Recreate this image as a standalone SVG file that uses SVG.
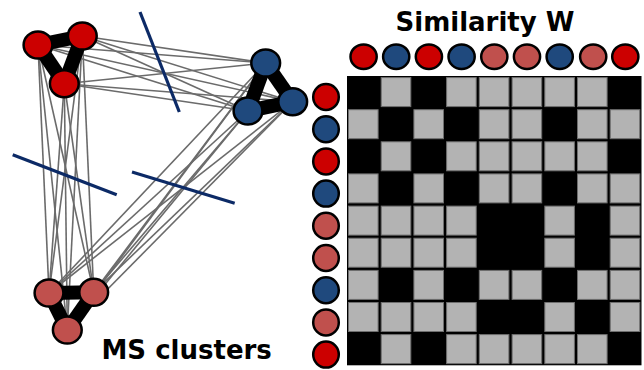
<svg xmlns="http://www.w3.org/2000/svg" width="644" height="370" viewBox="0 0 644 370">
<style>
.r{fill:#cc0000}.b{fill:#1f497d}.p{fill:#c0504d}
.n{stroke:#000;stroke-width:2.5}
.e{stroke:#6b6b6b;stroke-width:1.6;fill:none}
.k{stroke:#000;stroke-width:14;stroke-linecap:butt}
.sep{stroke:#0c2a66;stroke-width:3.2}
.g{fill:#b3b3b3;stroke:#6e6e6e;stroke-width:1}
.t{font-family:"DejaVu Sans",Verdana,sans-serif;font-weight:bold;font-size:26px;fill:#000}
</style>
<rect width="644" height="370" fill="#fff"/>
<g id="connectors">
<g class="e">
<line x1="38" y1="45" x2="265.7" y2="63"/><line x1="38" y1="45" x2="248" y2="111"/><line x1="38" y1="45" x2="292.7" y2="101.7"/>
<line x1="82.3" y1="36" x2="265.7" y2="63"/><line x1="82.3" y1="36" x2="248" y2="111"/><line x1="82.3" y1="36" x2="292.7" y2="101.7"/>
<line x1="64.3" y1="83.7" x2="265.7" y2="63"/><line x1="64.3" y1="83.7" x2="248" y2="111"/><line x1="64.3" y1="83.7" x2="292.7" y2="101.7"/>
<line x1="38" y1="45" x2="49" y2="293"/><line x1="38" y1="45" x2="93.7" y2="292.3"/><line x1="38" y1="45" x2="67.3" y2="330"/>
<line x1="82.3" y1="36" x2="49" y2="293"/><line x1="82.3" y1="36" x2="93.7" y2="292.3"/><line x1="82.3" y1="36" x2="67.3" y2="330"/>
<line x1="64.3" y1="83.7" x2="49" y2="293"/><line x1="64.3" y1="83.7" x2="93.7" y2="292.3"/><line x1="64.3" y1="83.7" x2="67.3" y2="330"/>
<line x1="49" y1="293" x2="265.7" y2="63"/><line x1="49" y1="293" x2="248" y2="111"/><line x1="49" y1="293" x2="292.7" y2="101.7"/>
<line x1="93.7" y1="292.3" x2="265.7" y2="63"/><line x1="93.7" y1="292.3" x2="248" y2="111"/><line x1="93.7" y1="292.3" x2="292.7" y2="101.7"/>
<line x1="67.3" y1="330" x2="265.7" y2="63"/><line x1="67.3" y1="330" x2="248" y2="111"/><line x1="67.3" y1="330" x2="292.7" y2="101.7"/>
</g>
<g class="k">
<line x1="38" y1="45" x2="82.3" y2="36"/><line x1="38" y1="45" x2="64.3" y2="83.7"/><line x1="82.3" y1="36" x2="64.3" y2="83.7"/>
<line x1="265.7" y1="63" x2="248" y2="111"/><line x1="265.7" y1="63" x2="292.7" y2="101.7"/><line x1="248" y1="111" x2="292.7" y2="101.7"/>
<line x1="49" y1="293" x2="93.7" y2="292.3"/><line x1="49" y1="293" x2="67.3" y2="330"/><line x1="93.7" y1="292.3" x2="67.3" y2="330"/>
</g>
</g>
<g id="separators" class="sep">
<line x1="140" y1="12" x2="179.3" y2="112"/>
<line x1="12.7" y1="154.7" x2="116.7" y2="194.7"/>
<line x1="132" y1="172" x2="234.7" y2="203.3"/>
</g>
<g id="nodeA"><ellipse class="n r" cx="38" cy="45" rx="14.4" ry="13.5"/></g>
<g id="nodeB"><ellipse class="n r" cx="82.3" cy="36" rx="14.4" ry="13.5"/></g>
<g id="nodeC"><ellipse class="n r" cx="64.3" cy="83.7" rx="14.4" ry="13.5"/></g>
<g id="nodeD"><ellipse class="n b" cx="265.7" cy="63" rx="14.4" ry="13.5"/></g>
<g id="nodeE"><ellipse class="n b" cx="248" cy="111" rx="14.4" ry="13.5"/></g>
<g id="nodeF"><ellipse class="n b" cx="292.7" cy="101.7" rx="14.4" ry="13.5"/></g>
<g id="nodeG"><ellipse class="n p" cx="49" cy="293" rx="14.4" ry="13.5"/></g>
<g id="nodeH"><ellipse class="n p" cx="93.7" cy="292.3" rx="14.4" ry="13.5"/></g>
<g id="nodeI"><ellipse class="n p" cx="67.3" cy="330" rx="14.4" ry="13.5"/></g>
<text class="t" x="101.5" y="359">MS clusters</text>
<text class="t" x="485" y="30.5" text-anchor="middle">Similarity W</text>
<g id="matrix">
<rect x="347" y="76" width="294.5" height="289.3" fill="#000"/>
<rect class="g" x="381.2" y="77.6" width="29.6" height="29"/><rect class="g" x="446.6" y="77.6" width="29.6" height="29"/><rect class="g" x="479.3" y="77.6" width="29.6" height="29"/><rect class="g" x="512.1" y="77.6" width="29.6" height="29"/><rect class="g" x="544.8" y="77.6" width="29.6" height="29"/><rect class="g" x="577.5" y="77.6" width="29.6" height="29"/>
<rect class="g" x="348.5" y="109.7" width="29.6" height="29"/><rect class="g" x="413.9" y="109.7" width="29.6" height="29"/><rect class="g" x="479.3" y="109.7" width="29.6" height="29"/><rect class="g" x="512.1" y="109.7" width="29.6" height="29"/><rect class="g" x="577.5" y="109.7" width="29.6" height="29"/><rect class="g" x="610.2" y="109.7" width="29.6" height="29"/>
<rect class="g" x="381.2" y="141.8" width="29.6" height="29"/><rect class="g" x="446.6" y="141.8" width="29.6" height="29"/><rect class="g" x="479.3" y="141.8" width="29.6" height="29"/><rect class="g" x="512.1" y="141.8" width="29.6" height="29"/><rect class="g" x="544.8" y="141.8" width="29.6" height="29"/><rect class="g" x="577.5" y="141.8" width="29.6" height="29"/>
<rect class="g" x="348.5" y="173.9" width="29.6" height="29"/><rect class="g" x="413.9" y="173.9" width="29.6" height="29"/><rect class="g" x="479.3" y="173.9" width="29.6" height="29"/><rect class="g" x="512.1" y="173.9" width="29.6" height="29"/><rect class="g" x="577.5" y="173.9" width="29.6" height="29"/><rect class="g" x="610.2" y="173.9" width="29.6" height="29"/>
<rect class="g" x="348.5" y="206.1" width="29.6" height="29"/><rect class="g" x="381.2" y="206.1" width="29.6" height="29"/><rect class="g" x="413.9" y="206.1" width="29.6" height="29"/><rect class="g" x="446.6" y="206.1" width="29.6" height="29"/><rect class="g" x="544.8" y="206.1" width="29.6" height="29"/><rect class="g" x="610.2" y="206.1" width="29.6" height="29"/>
<rect class="g" x="348.5" y="238.2" width="29.6" height="29"/><rect class="g" x="381.2" y="238.2" width="29.6" height="29"/><rect class="g" x="413.9" y="238.2" width="29.6" height="29"/><rect class="g" x="446.6" y="238.2" width="29.6" height="29"/><rect class="g" x="544.8" y="238.2" width="29.6" height="29"/><rect class="g" x="610.2" y="238.2" width="29.6" height="29"/>
<rect class="g" x="348.5" y="270.4" width="29.6" height="29"/><rect class="g" x="413.9" y="270.4" width="29.6" height="29"/><rect class="g" x="479.3" y="270.4" width="29.6" height="29"/><rect class="g" x="512.1" y="270.4" width="29.6" height="29"/><rect class="g" x="577.5" y="270.4" width="29.6" height="29"/><rect class="g" x="610.2" y="270.4" width="29.6" height="29"/>
<rect class="g" x="348.5" y="302.5" width="29.6" height="29"/><rect class="g" x="381.2" y="302.5" width="29.6" height="29"/><rect class="g" x="413.9" y="302.5" width="29.6" height="29"/><rect class="g" x="446.6" y="302.5" width="29.6" height="29"/><rect class="g" x="544.8" y="302.5" width="29.6" height="29"/><rect class="g" x="610.2" y="302.5" width="29.6" height="29"/>
<rect class="g" x="381.2" y="334.6" width="29.6" height="29"/><rect class="g" x="446.6" y="334.6" width="29.6" height="29"/><rect class="g" x="479.3" y="334.6" width="29.6" height="29"/><rect class="g" x="512.1" y="334.6" width="29.6" height="29"/><rect class="g" x="544.8" y="334.6" width="29.6" height="29"/><rect class="g" x="577.5" y="334.6" width="29.6" height="29"/>
</g>
<g id="colLabels" class="n">
<ellipse class="r" cx="363.6" cy="56.7" rx="13.1" ry="12.3"/>
<ellipse class="b" cx="396.2" cy="56.7" rx="13.1" ry="12.3"/>
<ellipse class="r" cx="428.9" cy="56.7" rx="13.1" ry="12.3"/>
<ellipse class="b" cx="461.6" cy="56.7" rx="13.1" ry="12.3"/>
<ellipse class="p" cx="494.3" cy="56.7" rx="13.1" ry="12.3"/>
<ellipse class="p" cx="527" cy="56.7" rx="13.1" ry="12.3"/>
<ellipse class="b" cx="559.7" cy="56.7" rx="13.1" ry="12.3"/>
<ellipse class="p" cx="593.2" cy="56.7" rx="13.1" ry="12.3"/>
<ellipse class="r" cx="625.3" cy="56.7" rx="13.1" ry="12.3"/>
</g>
<g id="rowLabels" class="n">
<ellipse class="r" cx="326" cy="97" rx="12.8" ry="13"/>
<ellipse class="b" cx="326" cy="129.2" rx="12.8" ry="13"/>
<ellipse class="r" cx="326" cy="161.4" rx="12.8" ry="13"/>
<ellipse class="b" cx="326" cy="193.6" rx="12.8" ry="13"/>
<ellipse class="p" cx="326" cy="225.8" rx="12.8" ry="13"/>
<ellipse class="p" cx="326" cy="258" rx="12.8" ry="13"/>
<ellipse class="b" cx="326" cy="290.2" rx="12.8" ry="13"/>
<ellipse class="p" cx="326" cy="322.4" rx="12.8" ry="13"/>
<ellipse class="r" cx="326" cy="354.6" rx="12.8" ry="13"/>
</g>
</svg>
